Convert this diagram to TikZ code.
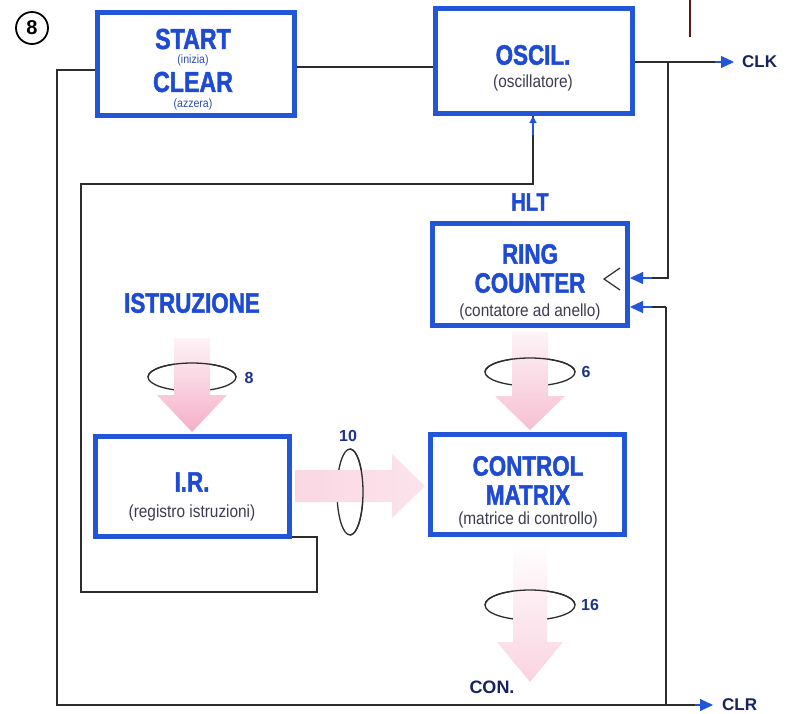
\documentclass[tikz,border=0pt]{standalone}
\usepackage{fontspec}
\setmainfont{Liberation Sans}
\newfontfamily\titlef{Liberation Sans Bold}[FakeStretch=0.8,FakeBold=1.6]
\newfontfamily\smallf{Liberation Sans}[FakeStretch=0.88]
\newfontfamily\lblf{Liberation Sans Bold}
\usetikzlibrary{arrows.meta}
\definecolor{boxblue}{RGB}{35,85,215}
\definecolor{txtblue}{RGB}{30,75,210}
\definecolor{navy}{RGB}{22,35,95}
\definecolor{numblue}{RGB}{30,50,140}
\definecolor{smallgray}{RGB}{60,60,80}
\definecolor{wirec}{RGB}{45,45,45}
\definecolor{pinkA}{RGB}{245,175,200}
\definecolor{darkred}{RGB}{90,25,25}
\begin{document}
\begin{tikzpicture}[x=1pt,y=-1pt,
  blk/.style 2 args={draw=boxblue, line width=5pt, fill=white, inner sep=0pt,
     minimum width=#1pt, minimum height=#2pt},
  ttl/.style={font=\titlef\fontsize{28}{28}\selectfont, text=txtblue, inner sep=0pt},
  sub/.style={font=\smallf\fontsize{17.5}{17.5}\selectfont, text=smallgray, inner sep=0pt},
  tiny/.style={font=\smallf\fontsize{12}{12}\selectfont, text=boxblue!70!smallgray, inner sep=0pt},
  lbl/.style={font=\lblf\fontsize{17}{17}\selectfont, text=navy, inner sep=0pt},
  num/.style={font=\lblf\fontsize{16}{16}\selectfont, text=numblue, inner sep=0pt},
  wire/.style={draw=wirec, line width=1.2pt},
  tip/.style={-{Triangle[length=13pt,width=12pt]}, color=boxblue, line width=1.2pt},
  ring/.style={draw=wirec, line width=1.3pt}
]
\useasboundingbox (0,0) rectangle (796,713);
\fill[white] (0,0) rectangle (796,713);

% circled number
\node[draw=black, line width=1.8pt, circle, minimum size=32pt, inner sep=0pt,
      font=\lblf\fontsize{20}{20}\selectfont] (fig) at (32,28) {8};

% stray mark
\coordinate (m1) at (690,0);
\coordinate (m2) at (690,37);
\draw[draw=darkred, line width=2pt] (m1) -- (m2);

% boxes
\node[blk={197}{103}] (start) at (196,64) {};
\node[blk={197}{105}] (oscil) at (534,61) {};
\node[blk={195}{102}] (ring) at (530,274.5) {};
\node[blk={194}{100}] (ir) at (192.5,486.5) {};
\node[blk={194}{100}] (cm) at (527.5,484.5) {};

% texts
\node[ttl, font=\titlef\fontsize{29}{29}\selectfont] (tStart) at (193,39) {START};
\node[tiny] (tIni) at (193,60) {(inizia)};
\node[ttl, font=\titlef\fontsize{29}{29}\selectfont] (tClear) at (193,82) {CLEAR};
\node[tiny] (tAzz) at (193,104) {(azzera)};
\node[ttl] (tOsc) at (533,55) {OSCIL.};
\node[sub] (sOsc) at (533,83) {(oscillatore)};
\node[ttl, font=\titlef\fontsize{25}{25}\selectfont] (tHlt) at (530,202) {HLT};
\node[ttl] (tRing) at (530,254) {RING};
\node[ttl] (tCount) at (530,283) {COUNTER};
\node[sub] (sRing) at (530,312) {(contatore ad anello)};
\node[ttl] (tIstr) at (192,303) {ISTRUZIONE};
\node[ttl] (tIR) at (192,482) {I.R.};
\node[sub] (sIR) at (192,513) {(registro istruzioni)};
\node[ttl] (tCtrl) at (528,466) {CONTROL};
\node[ttl] (tMat) at (528,495) {MATRIX};
\node[sub] (sCM) at (528,520) {(matrice di controllo)};

% clock mark in ring counter
\coordinate (k1) at (620,268);
\coordinate (k2) at (604,279);
\coordinate (k3) at (620,290);
\draw[wire] (k1) -- (k2) -- (k3);

% named coordinates for wiring
\coordinate (yS) at (0,67);
\coordinate (yC) at (0,62);
\coordinate (tl) at (57,70);
\coordinate (bl) at (57,705);
\coordinate (br) at (666,705);
\coordinate (clrE) at (713,705);
\coordinate (r2) at (666,307);
\coordinate (clkE) at (734,62);
\coordinate (r1t) at (668,62);
\coordinate (r1) at (668,278);
\coordinate (i1) at (317,537);
\coordinate (i2) at (317,592);
\coordinate (i3) at (81,592);
\coordinate (i4) at (81,184);
\coordinate (i5) at (533,184);

% wires
\draw[wire] (start.east |- yS) -- (oscil.west |- yS);
\draw[wire] (start.west |- tl) -- (tl) -- (bl) -- (br);
\draw[wire] (br) -- (r2);
\draw[wire] (oscil.east |- yC) -- (720,62);
\draw[tip] (715,62) -- (clkE);
\draw[wire] (r1t) -- (r1) -- (650,278);
\draw[tip] (652,278) -- (ring.east |- r1);
\draw[wire] (r2) -- (650,307);
\draw[tip] (652,307) -- (ring.east |- r2);
\draw[wire] (br) -- (700,705);
\draw[tip] (695,705) -- (clrE);
\draw[wire] (ir.east |- i1) -- (i1) -- (i2) -- (i3) -- (i4) -- (i5) -- (i5 |- oscil.south);
\draw[-{Triangle[length=7pt,width=7pt]}, color=boxblue, line width=1.2pt] (533,135) -- (i5 |- oscil.south);

\node[lbl, anchor=west] (clk) at (742,62) {CLK};
\node[lbl, anchor=west] (clr) at (722,705) {CLR};
\node[lbl, font=\lblf\fontsize{18}{18}\selectfont] (con) at (492,687) {CON.};

% ---- bus "8" into IR
\coordinate (e8) at (192,377);
\draw[ring] (e8) ellipse [x radius=44pt, y radius=14pt];
\shade[top color=pinkA!15, bottom color=pinkA]
  (174,338) -- (210,338) -- (210,395) -- (227,395) -- (192,432) -- (157,395) -- (174,395) -- cycle;
\draw[ring] (148,377) arc[start angle=180, end angle=0, x radius=44pt, y radius=14pt];
\node[num] (n8) at (249,378) {8};

% ---- bus "6" into control matrix
\coordinate (e6) at (530,372);
\draw[ring] (e6) ellipse [x radius=45pt, y radius=14pt];
\shade[top color=pinkA!15, bottom color=pinkA!80]
  (512,332) -- (548,332) -- (548,396) -- (565,396) -- (530,430) -- (495,396) -- (512,396) -- cycle;
\draw[ring] (485,372) arc[start angle=180, end angle=0, x radius=45pt, y radius=14pt];
\node[num] (n6) at (586,372) {6};

% ---- bus "10" from IR to control matrix
\coordinate (e10) at (350,492);
\draw[ring] (e10) ellipse [x radius=13pt, y radius=43pt];
\shade[left color=pinkA!50, right color=pinkA!35]
  (295,470) -- (392,470) -- (392,454) -- (425,486) -- (392,518) -- (392,502) -- (295,502) -- cycle;
\draw[ring] (350,449) arc[start angle=90, end angle=-90, x radius=13pt, y radius=43pt];
\node[num] (n10) at (348,436) {10};

% ---- bus "16" out of control matrix
\coordinate (e16) at (530,605);
\draw[ring] (e16) ellipse [x radius=45pt, y radius=15pt];
\shade[top color=white, bottom color=pinkA!55]
  (513,542) -- (547,542) -- (547,642) -- (563,642) -- (530,682) -- (497,642) -- (513,642) -- cycle;
\draw[ring] (485,605) arc[start angle=180, end angle=0, x radius=45pt, y radius=15pt];
\node[num] (n16) at (590,605) {16};
\end{tikzpicture}
\end{document}
